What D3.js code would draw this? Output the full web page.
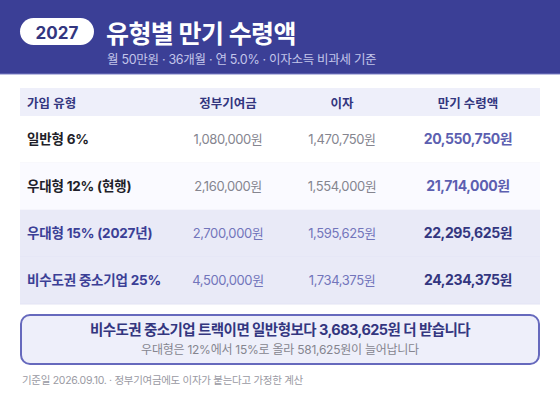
<!DOCTYPE html>
<html lang="ko">
<head>
<meta charset="utf-8">
<script src="https://cdnjs.cloudflare.com/ajax/libs/d3/7.8.5/d3.min.js"></script>
<style>
html,body{margin:0;padding:0;background:#fff}
svg{display:block}
text{font-family:Inter,"Noto Sans CJK KR",sans-serif}
</style>
</head>
<body>
<svg id="chart" width="560" height="420"></svg>
<script>
const columns=["가입 유형","정부기여금","이자","만기 수령액"];
const plans=["일반형 6%","우대형 12% (현행)","우대형 15% (2027년)","비수도권 중소기업 25%"];
const contributions=[1080000,2160000,2700000,4500000];
const interest=[1470750,1554000,1595625,1734375];
const payouts=[20550750,21714000,22295625,24234375];
const highlighted=[false,false,true,true];

const won=d=>d3.format(",")(d)+"원";
const svg=d3.select("#chart");

// header band
svg.append("rect").attr("width",560).attr("height",74).attr("fill","#3b3f96");
svg.append("rect").attr("y",73.5).attr("width",560).attr("height",1).attr("fill","#7a7ec4");
svg.append("rect").attr("x",20).attr("y",18).attr("width",74).attr("height",27).attr("rx",13.5).attr("fill","#fff");
svg.append("text").attr("x",57).attr("y",38.5).attr("text-anchor","middle")
  .attr("font-size",17).attr("font-weight",700).attr("fill","#33367f").text("2027");
svg.append("text").attr("x",106).attr("y",43).attr("font-size",25).attr("font-weight",700)
  .attr("letter-spacing",-0.6).attr("fill","#fff").text("유형별 만기 수령액");
svg.append("text").attr("x",107).attr("y",64).attr("font-size",12.5).attr("letter-spacing",-0.3).attr("fill","#c3c6ea")
  .text("월 50만원 · 36개월 · 연 5.0% · 이자소득 비과세 기준");

// table
const x=d3.scaleOrdinal().domain(columns).range([27,228,342,468]);
const y=d3.scaleBand().domain(plans).range([116,304]);

svg.append("rect").attr("x",20).attr("y",88).attr("width",520).attr("height",28).attr("fill","#eeeffa");
svg.selectAll(".col").data(columns).join("text").attr("class","col")
  .attr("x",d=>x(d)).attr("y",104).attr("dy","0.35em")
  .attr("text-anchor",(d,i)=>i==0?"start":"middle")
  .attr("font-size",12.5).attr("font-weight",600).attr("fill","#33367f").text(d=>d);

const rows=svg.selectAll(".row").data(plans).join("g").attr("class","row")
  .attr("transform",d=>`translate(0,${y(d)})`);
rows.append("rect").attr("x",20).attr("width",520).attr("height",y.bandwidth())
  .attr("fill",(d,i)=>highlighted[i]?"#e9eaf7":i==1?"#fafaff":"#fff");
rows.append("line").attr("x1",20).attr("x2",540).attr("y1",y.bandwidth()).attr("y2",y.bandwidth())
  .attr("stroke",(d,i)=>highlighted[i]?"#e3e4f4":"#f1f1f9");
const mid=y.bandwidth()/2;
rows.append("text").attr("x",x(columns[0])).attr("y",mid).attr("dy","0.35em")
  .attr("font-size",13.5).attr("font-weight",700).attr("letter-spacing",-0.2)
  .attr("fill",(d,i)=>highlighted[i]?"#3b3f96":"#1f1f2a").text(d=>d);
rows.append("text").attr("x",x(columns[1])).attr("y",mid).attr("dy","0.35em").attr("text-anchor","middle")
  .attr("font-size",13).attr("letter-spacing",-0.4).attr("fill",(d,i)=>highlighted[i]?"#7275bb":"#85858f")
  .text((d,i)=>won(contributions[i]));
rows.append("text").attr("x",x(columns[2])).attr("y",mid).attr("dy","0.35em").attr("text-anchor","middle")
  .attr("font-size",13).attr("letter-spacing",-0.4).attr("fill",(d,i)=>highlighted[i]?"#7275bb":"#85858f")
  .text((d,i)=>won(interest[i]));
rows.append("text").attr("x",x(columns[3])).attr("y",mid).attr("dy","0.35em").attr("text-anchor","middle")
  .attr("font-size",14).attr("font-weight",700).attr("letter-spacing",-0.4).attr("fill",(d,i)=>highlighted[i]?"#33367f":"#5c5fb0")
  .text((d,i)=>won(payouts[i]));

// callout
svg.append("rect").attr("x",21).attr("y",315).attr("width",518).attr("height",49).attr("rx",9)
  .attr("fill","#eeeffa").attr("stroke","#6669bd").attr("stroke-width",2);
svg.append("text").attr("x",280).attr("y",330).attr("dy","0.35em").attr("text-anchor","middle")
  .attr("font-size",14.5).attr("font-weight",700).attr("letter-spacing",-0.55).attr("fill","#33367f")
  .text(`비수도권 중소기업 트랙이면 일반형보다 ${won(payouts[3]-payouts[0])} 더 받습니다`);
svg.append("text").attr("x",280).attr("y",350).attr("dy","0.35em").attr("text-anchor","middle")
  .attr("font-size",12).attr("letter-spacing",-0.25).attr("fill","#85858f")
  .text(`우대형은 12%에서 15%로 올라 ${won(payouts[2]-payouts[1])}이 늘어납니다`);

svg.append("text").attr("x",22).attr("y",380).attr("dy","0.35em").attr("font-size",10.5).attr("letter-spacing",-0.3).attr("fill","#9a9aa3")
  .text("기준일 2026.09.10. · 정부기여금에도 이자가 붙는다고 가정한 계산");
</script>
</body>
</html>
